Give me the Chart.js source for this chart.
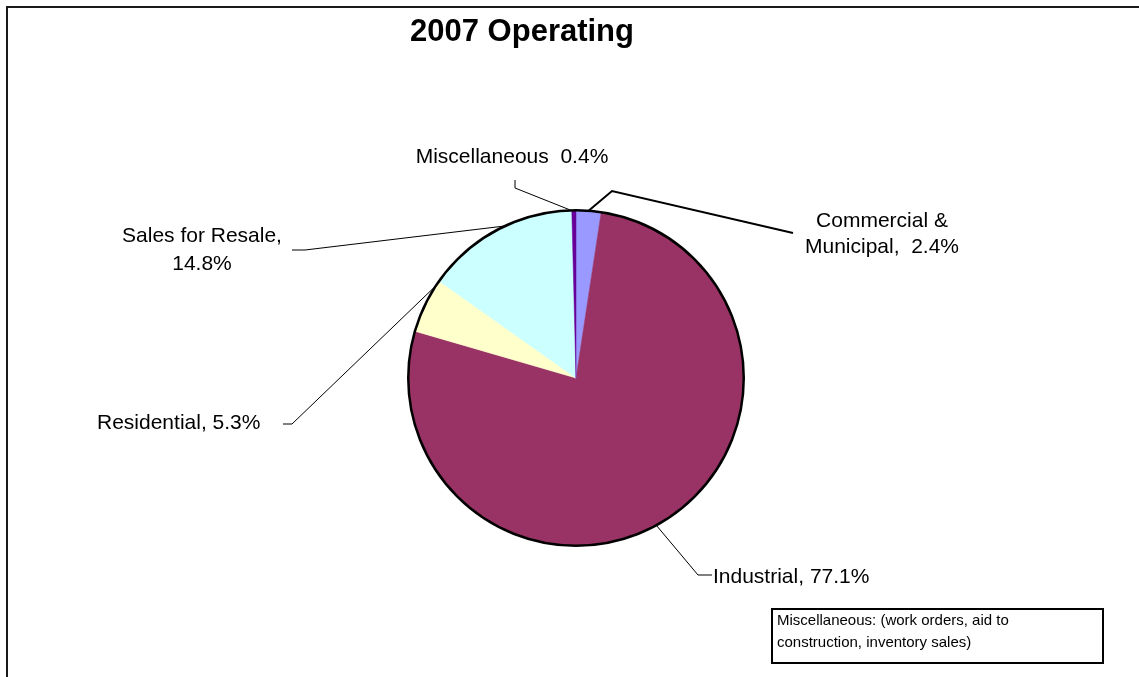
<!DOCTYPE html>
<html>
<head>
<meta charset="utf-8">
<script src="https://cdn.jsdelivr.net/npm/chart.js@4/dist/chart.umd.min.js"></script>
<style>
  html, body { margin: 0; padding: 0; background: #ffffff; }
  #wrap { position: relative; width: 1139px; height: 677px; }
  canvas { display: block; }
</style>
</head>
<body>
<div id="wrap"><canvas id="c" width="1139" height="677"></canvas></div>
<script>
// ---- data ----
const chartTitle = '2007 Operating';
const categories = ['Commercial & Municipal', 'Industrial', 'Residential', 'Sales for Resale', 'Miscellaneous'];
const shares = [2.4, 77.1, 5.3, 14.8, 0.4];
const sliceColors = ['#9999FF', '#993366', '#FFFFCC', '#CCFFFF', '#660099'];
const noteLines = ['Miscellaneous: (work orders, aid to', 'construction, inventory sales)'];

const pct = v => v.toFixed(1) + '%';
const labelLines = [
  ['Commercial &', 'Municipal,  ' + pct(shares[0])],
  ['Industrial, ' + pct(shares[1])],
  ['Residential, ' + pct(shares[2])],
  ['Sales for Resale,', pct(shares[3])],
  ['Miscellaneous  ' + pct(shares[4])]
];

// label placement (annotation layout, not data)
const labelLayout = [
  { align: 'center', x: 882, ys: [227, 253], anchorDeg: 4.3, path: [[612, 191], [793, 233]], lw: 2 },
  { align: 'left', x: 713, ys: [583], anchorDeg: 151.4, path: [[698, 575], [712, 575]], lw: 1 },
  { align: 'left', x: 97, ys: [429], anchorDeg: 303.4, path: [[292, 424], [283, 424]], lw: 1 },
  { align: 'center', x: 202, ys: [242, 270], anchorDeg: 335, path: [[305, 250], [292, 250]], lw: 1 },
  { align: 'center', x: 512, ys: [163], anchorDeg: -1.7, path: [[515, 188], [515, 180]], lw: 1 }
];

const FONT = '"Liberation Sans", Arial, sans-serif';

const decor = {
  id: 'decor',
  beforeDraw(chart) {
    const ctx = chart.ctx;
    ctx.save();
    ctx.fillStyle = '#ffffff';
    ctx.fillRect(0, 0, chart.width, chart.height);
    ctx.restore();
  },
  afterDatasetsDraw(chart) {
    const ctx = chart.ctx;
    const arc = chart.getDatasetMeta(0).data[0];
    const cx = arc.x, cy = arc.y, r = arc.outerRadius;
    ctx.save();
    // pie outline
    ctx.beginPath();
    ctx.arc(cx, cy, r, 0, Math.PI * 2);
    ctx.lineWidth = 2.5;
    ctx.strokeStyle = '#000000';
    ctx.stroke();

    // leader lines
    labelLayout.forEach(L => {
      const a = (L.anchorDeg - 90) * Math.PI / 180;
      ctx.beginPath();
      ctx.moveTo(cx + r * Math.cos(a), cy + r * Math.sin(a));
      L.path.forEach(p => ctx.lineTo(p[0], p[1]));
      ctx.lineWidth = L.lw;
      ctx.strokeStyle = '#000000';
      ctx.stroke();
    });

    // labels
    ctx.fillStyle = '#000000';
    ctx.font = '21px ' + FONT;
    ctx.textBaseline = 'alphabetic';
    labelLayout.forEach((L, i) => {
      ctx.textAlign = L.align;
      labelLines[i].forEach((t, k) => ctx.fillText(t, L.x, L.ys[k]));
    });

    // title
    ctx.font = 'bold 31px ' + FONT;
    ctx.textAlign = 'center';
    ctx.fillText(chartTitle, 522, 41);

    // note box
    ctx.lineWidth = 2;
    ctx.strokeRect(772, 609, 331, 54);
    ctx.font = '15px ' + FONT;
    ctx.textAlign = 'left';
    ctx.fillText(noteLines[0], 777, 625);
    ctx.fillText(noteLines[1], 777, 647);

    // outer frame (top and left edges visible)
    ctx.beginPath();
    ctx.moveTo(7, 677);
    ctx.lineTo(7, 7);
    ctx.lineTo(1139, 7);
    ctx.lineWidth = 2;
    ctx.strokeStyle = '#1a1a1a';
    ctx.stroke();
    ctx.restore();
  }
};

new Chart(document.getElementById('c'), {
  type: 'pie',
  data: {
    labels: categories,
    datasets: [{
      data: shares,
      backgroundColor: sliceColors,
      borderColor: sliceColors,
      borderWidth: 0.5
    }]
  },
  options: {
    responsive: false,
    animation: false,
    devicePixelRatio: 1,
    rotation: 0,
    layout: { padding: { left: 408, right: 395, top: 210, bottom: 131 } },
    plugins: {
      legend: { display: false },
      tooltip: { enabled: false },
      title: { display: false }
    }
  },
  plugins: [decor]
});
</script>
</body>
</html>
